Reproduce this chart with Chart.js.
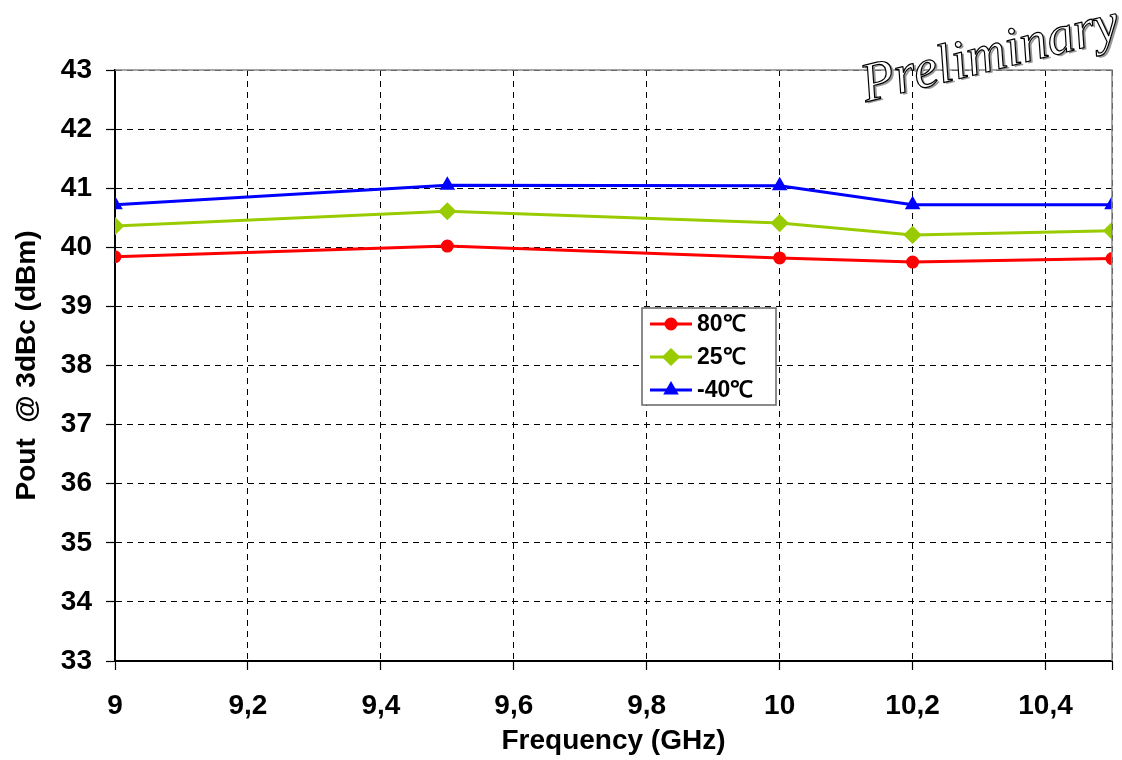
<!DOCTYPE html>
<html>
<head>
<meta charset="utf-8">
<script src="https://cdn.jsdelivr.net/npm/chart.js@4"></script>
<style>
  html, body { margin: 0; padding: 0; background: #fff; }
  #wrap { width: 1122px; height: 760px; }
</style>
</head>
<body>
<div id="wrap"><canvas id="chart-pout" width="1122" height="760"></canvas></div>
<script>
// frequency points (GHz)
var freqs = [9, 9.5, 10, 10.2, 10.5]
// Pout @ 3dBc per temperature
var pout80 = [39.84, 40.02, 39.82, 39.75, 39.81]
var pout25 = [40.36, 40.61, 40.41, 40.21, 40.28]
var poutM40 = [40.72, 41.05, 41.04, 40.72, 40.72]
var seriesLabels = ['80\u2103', '25\u2103', '-40\u2103']
var seriesColors = ['#ff0000', '#99cc00', '#0000ff']
var seriesMarkers = ['circle', 'rectRot', 'triangle']
var markerSizes = [5, 7, 6]
// x ticks (10.5 is the axis end, no label)
var xTicks = [9, 9.2, 9.4, 9.6, 9.8, 10, 10.2, 10.4, 10.5]

function toPoints(values){
  return values.map(function(v, i){ return {x: freqs[i], y: v} })
}

var FONT = '"Liberation Sans", Arial, sans-serif'

// frame + watermark
var framePlugin = {
  id: 'frame',
  afterDatasetsDraw: function(chart){
    var ctx = chart.ctx
    var a = chart.chartArea
    ctx.save()
    ctx.strokeStyle = '#888'
    ctx.lineWidth = 1.5
    ctx.beginPath()
    ctx.moveTo(a.left, a.top)
    ctx.lineTo(a.right, a.top)
    ctx.lineTo(a.right, a.bottom)
    ctx.stroke()
    ctx.restore()
  },
  afterDraw: function(chart){
    var ctx = chart.ctx
    ctx.save()
    ctx.translate(866, 102)
    ctx.rotate(-14 * Math.PI / 180)
    ctx.font = 'italic 55px "Liberation Serif", "DejaVu Serif", serif'
    ctx.textBaseline = 'alphabetic'
    ctx.lineJoin = 'round'
    ctx.fillStyle = '#999'
    ctx.fillText('Preliminary', 2, 2)
    ctx.fillStyle = '#fff'
    ctx.fillText('Preliminary', 0, 0)
    ctx.strokeStyle = '#000'
    ctx.lineWidth = 1.2
    ctx.strokeText('Preliminary', 0, 0)
    ctx.restore()
  }
}

// legend box drawn inside the plot
var legendBoxPlugin = {
  id: 'legendBox',
  afterDraw: function(chart){
    var ctx = chart.ctx
    var bx = 642, by = 308, bw = 134, bh = 97
    ctx.save()
    ctx.fillStyle = '#fff'
    ctx.fillRect(bx, by, bw, bh)
    ctx.strokeStyle = '#666'
    ctx.lineWidth = 1.5
    ctx.strokeRect(bx, by, bw, bh)
    var rows = [324, 357, 390]
    chart.data.datasets.forEach(function(ds, i){
      var y = rows[i]
      ctx.strokeStyle = ds.borderColor
      ctx.lineWidth = 3
      ctx.beginPath()
      ctx.moveTo(650, y)
      ctx.lineTo(692, y)
      ctx.stroke()
      ctx.fillStyle = ds.borderColor
      Chart.helpers.drawPoint(ctx, {pointStyle: ds.pointStyle, radius: ds.pointRadius, borderWidth: 1}, 671, y)
      ctx.fillStyle = '#000'
      ctx.font = 'bold 23px ' + FONT
      ctx.textBaseline = 'middle'
      ctx.textAlign = 'left'
      ctx.fillText(ds.label, 697, y + 1)
    })
    ctx.restore()
  }
}

var datasets = [pout80, pout25, poutM40].map(function(vals, i){
  return {
    label: seriesLabels[i],
    data: toPoints(vals),
    borderColor: seriesColors[i],
    backgroundColor: seriesColors[i],
    pointBackgroundColor: seriesColors[i],
    pointBorderColor: seriesColors[i],
    pointStyle: seriesMarkers[i],
    pointRadius: markerSizes[i],
    borderWidth: 3,
    tension: 0,
    fill: false
  }
})

var gridCommon = {
  color: '#000',
  lineWidth: 1,
  drawTicks: true,
  tickLength: 9,
  tickColor: '#000',
  tickWidth: 1.2,
  tickBorderDash: []
}

new Chart(document.getElementById('chart-pout'), {
  type: 'line',
  data: {datasets: datasets},
  options: {
    responsive: false,
    animation: false,
    layout: {padding: {top: 70, right: 9, left: 0, bottom: 0}},
    plugins: {
      legend: {display: false},
      tooltip: {enabled: false}
    },
    scales: {
      x: {
        type: 'linear',
        min: 9,
        max: 10.5,
        afterBuildTicks: function(scale){
          scale.ticks = xTicks.map(function(v){ return {value: v} })
        },
        ticks: {
          padding: 19,
          color: '#000',
          font: {family: FONT, size: 28, weight: 'bold'},
          maxRotation: 0,
          autoSkip: false,
          callback: function(v){
            var r = Math.round(v * 10) / 10
            if (Math.abs(r - 10.5) < 1e-6) return ''
            return String(r).replace('.', ',')
          }
        },
        grid: gridCommon,
        border: {display: true, color: '#000', width: 2, dash: [6, 5]},
        title: {
          display: true,
          text: 'Frequency (GHz)',
          color: '#000',
          font: {family: FONT, size: 28, weight: 'bold'},
          padding: {top: 0, bottom: 2}
        },
        afterFit: function(scale){
          scale.height = 99
          scale.paddingRight = 0
          scale.paddingLeft = 0
        }
      },
      y: {
        min: 33,
        max: 43,
        ticks: {
          stepSize: 1,
          padding: 14,
          color: '#000',
          font: {family: FONT, size: 28, weight: 'bold'}
        },
        grid: gridCommon,
        border: {display: true, color: '#000', width: 2, dash: [6, 5]},
        title: {
          display: true,
          text: 'Pout  @ 3dBc (dBm)',
          color: '#000',
          font: {family: FONT, size: 28, weight: 'bold'},
          padding: {top: 10, bottom: 0}
        },
        afterFit: function(scale){
          scale.width = 115
          scale.paddingTop = 0
          scale.paddingBottom = 0
        }
      }
    }
  },
  plugins: [framePlugin, legendBoxPlugin]
})
</script>
</body>
</html>
